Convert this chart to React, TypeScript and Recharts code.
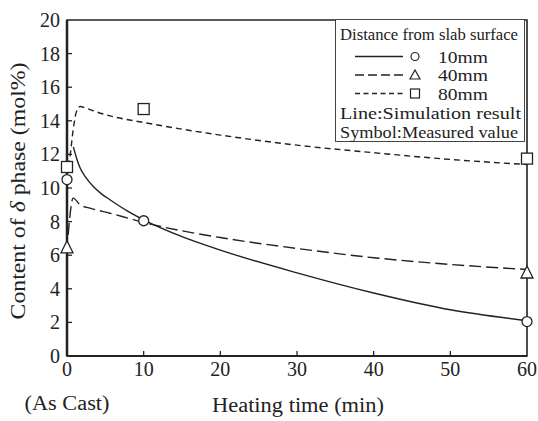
import { ComposedChart, Line, Scatter, XAxis, YAxis, ReferenceArea } from "recharts";

const FONT = "'Liberation Serif', 'Times New Roman', 'DejaVu Serif', serif";
const INK = "#222";
const TXT = { fontFamily: FONT, fill: INK };

const X_TICKS = [0, 10, 20, 30, 40, 50, 60];
const Y_TICKS = [0, 2, 4, 6, 8, 10, 12, 14, 16, 18, 20];

// simulation curves (heating time in min, delta phase in mol%)
const SIM_10MM_T = [0.83, 1.2, 1.7, 2.5, 3.4, 4.5, 5.6, 7.8, 10, 15, 20, 30, 40, 50, 60];
const SIM_10MM_V = [12.45, 11.85, 11.2, 10.6, 10.1, 9.65, 9.3, 8.65, 8.1, 7.1, 6.3, 4.95, 3.75, 2.75, 2.1];
const SIM_40MM_T = [0.15, 0.8, 1.7, 3, 5.6, 8, 10, 15, 20, 30, 40, 50, 60];
const SIM_40MM_V = [7.2, 9.4, 9.0, 8.8, 8.5, 8.2, 7.95, 7.45, 7.05, 6.4, 5.85, 5.45, 5.15];
const SIM_80MM_T = [0.2, 0.4, 0.8, 1.2, 1.7, 2.5, 3.4, 6, 10, 15, 20, 30, 40, 50, 60];
const SIM_80MM_V = [11.3, 11.9, 13.45, 14.5, 14.85, 14.75, 14.6, 14.25, 13.9, 13.5, 13.15, 12.55, 12.1, 11.7, 11.4];

// measured values
const MEAS_10MM_T = [0, 10, 60];
const MEAS_10MM_V = [10.5, 8.05, 2.05];
const MEAS_40MM_T = [0, 60];
const MEAS_40MM_V = [6.5, 5.0];
const MEAS_80MM_T = [0, 10, 60];
const MEAS_80MM_V = [11.25, 14.7, 11.75];

const zip = (t: number[], v: number[]) => t.map((x, i) => ({ x, y: v[i] }));

const CircleMark = (p: any) => (
  <circle cx={p.cx} cy={p.cy} r={5} fill="#fff" stroke={INK} strokeWidth={1.3} />
);
const SquareMark = (p: any) => (
  <rect x={p.cx - 5.5} y={p.cy - 5.5} width={11} height={11} fill="#fff" stroke={INK} strokeWidth={1.3} />
);
const TriangleMark = (p: any) => (
  <polygon
    points={`${p.cx},${p.cy - 6} ${p.cx - 6},${p.cy + 6} ${p.cx + 6},${p.cy + 6}`}
    fill="#fff"
    stroke={INK}
    strokeWidth={1.3}
  />
);

const XTick = (p: any) => {
  const v = p.payload.value;
  const axisY = p.y - 6;
  return (
    <g>
      {v > 0 && v < 60 && <line x1={p.x} x2={p.x} y1={axisY} y2={axisY - 5} stroke={INK} strokeWidth={1.3} />}
      <text x={p.x} y={p.y + 14} textAnchor="middle" fontSize={20} style={TXT}>
        {v}
      </text>
    </g>
  );
};

const YTick = (p: any) => {
  const v = p.payload.value;
  const axisX = p.x + 7;
  return (
    <g>
      {v > 0 && v < 20 && <line x1={axisX} x2={axisX + 5} y1={p.y} y2={p.y} stroke={INK} strokeWidth={1.3} />}
      <text x={p.x} y={p.y + 7} textAnchor="end" fontSize={20} style={TXT}>
        {v}
      </text>
    </g>
  );
};

function LegendBox() {
  const rows = [
    { label: "10mm", dash: undefined, mark: "circle" },
    { label: "40mm", dash: "9 4", mark: "triangle" },
    { label: "80mm", dash: "5 3.5", mark: "square" },
  ];
  return (
    <svg width={192} height={124} style={{ position: "absolute", left: 335, top: 19 }}>
      <rect x={0.5} y={0.5} width={189} height={122} fill="#fff" stroke="#444" strokeWidth={1} />
      <text x={5} y={21} fontSize={16} textLength={178} lengthAdjust="spacingAndGlyphs" style={TXT}>
        Distance from slab surface
      </text>
      {rows.map((r, i) => {
        const cy = 37.5 + i * 18.5;
        return (
          <g key={r.label}>
            <line x1={20} x2={68} y1={cy} y2={cy} stroke={INK} strokeWidth={1.3} strokeDasharray={r.dash} />
            {r.mark === "circle" && <circle cx={80} cy={cy} r={4} fill="#fff" stroke={INK} strokeWidth={1.2} />}
            {r.mark === "triangle" && (
              <polygon points={`80,${cy - 5} 75,${cy + 4} 85,${cy + 4}`} fill="#fff" stroke={INK} strokeWidth={1.2} />
            )}
            {r.mark === "square" && (
              <rect x={75.5} y={cy - 4.5} width={9} height={9} fill="#fff" stroke={INK} strokeWidth={1.2} />
            )}
            <text x={103} y={cy + 6} fontSize={16} textLength={50} lengthAdjust="spacingAndGlyphs" style={TXT}>
              {r.label}
            </text>
          </g>
        );
      })}
      <text x={5} y={99.5} fontSize={16} textLength={181} lengthAdjust="spacingAndGlyphs" style={TXT}>
        Line:Simulation result
      </text>
      <text x={5} y={118.5} fontSize={16} textLength={178} lengthAdjust="spacingAndGlyphs" style={TXT}>
        Symbol:Measured value
      </text>
    </svg>
  );
}

export default function App() {
  return (
    <div style={{ position: "absolute", left: 0, top: 0, width: 538, height: 421, background: "#fff" }}>
      <ComposedChart width={538} height={421} margin={{ top: 20, right: 11, left: 0, bottom: 0 }}>
        <XAxis
          dataKey="x"
          type="number"
          domain={[0, 60]}
          ticks={X_TICKS}
          interval={0}
          height={65}
          tickSize={0}
          tickMargin={6}
          tickLine={false}
          tick={<XTick />}
          axisLine={{ stroke: INK, strokeWidth: 2.2 }}
        />
        <YAxis
          dataKey="y"
          type="number"
          domain={[0, 20]}
          ticks={Y_TICKS}
          interval={0}
          width={67}
          tickSize={0}
          tickMargin={7}
          tickLine={false}
          tick={<YTick />}
          axisLine={{ stroke: INK, strokeWidth: 2.5 }}
        />
        <ReferenceArea x1={0} x2={60} y1={0} y2={20} fill="none" fillOpacity={0} stroke={INK} strokeWidth={1.6} />
        <Line
          data={zip(SIM_10MM_T, SIM_10MM_V)}
          dataKey="y"
          type="monotone"
          stroke={INK}
          strokeWidth={1.4}
          dot={false}
          isAnimationActive={false}
        />
        <Line
          data={zip(SIM_40MM_T, SIM_40MM_V)}
          dataKey="y"
          type="monotone"
          stroke={INK}
          strokeWidth={1.4}
          strokeDasharray="12 5"
          dot={false}
          isAnimationActive={false}
        />
        <Line
          data={zip(SIM_80MM_T, SIM_80MM_V)}
          dataKey="y"
          type="monotone"
          stroke={INK}
          strokeWidth={1.4}
          strokeDasharray="6 4"
          dot={false}
          isAnimationActive={false}
        />
        <Scatter data={zip(MEAS_10MM_T, MEAS_10MM_V)} dataKey="y" shape={CircleMark} isAnimationActive={false} />
        <Scatter data={zip(MEAS_40MM_T, MEAS_40MM_V)} dataKey="y" shape={TriangleMark} isAnimationActive={false} />
        <Scatter data={zip(MEAS_80MM_T, MEAS_80MM_V)} dataKey="y" shape={SquareMark} isAnimationActive={false} />
      </ComposedChart>
      <svg width={538} height={421} style={{ position: "absolute", left: 0, top: 0, pointerEvents: "none" }}>
        <text
          transform="translate(25,191) rotate(-90)"
          textAnchor="middle"
          fontSize={20}
          textLength={257}
          lengthAdjust="spacingAndGlyphs"
          style={TXT}
        >
          Content of <tspan fontStyle="italic">δ</tspan> phase (mol%)
        </text>
        <text x={298} y={412} textAnchor="middle" fontSize={20} textLength={172} lengthAdjust="spacingAndGlyphs" style={TXT}>
          Heating time (min)
        </text>
        <text x={67} y={410} textAnchor="middle" fontSize={20} textLength={85} lengthAdjust="spacingAndGlyphs" style={TXT}>
          (As Cast)
        </text>
      </svg>
      <LegendBox />
    </div>
  );
}
